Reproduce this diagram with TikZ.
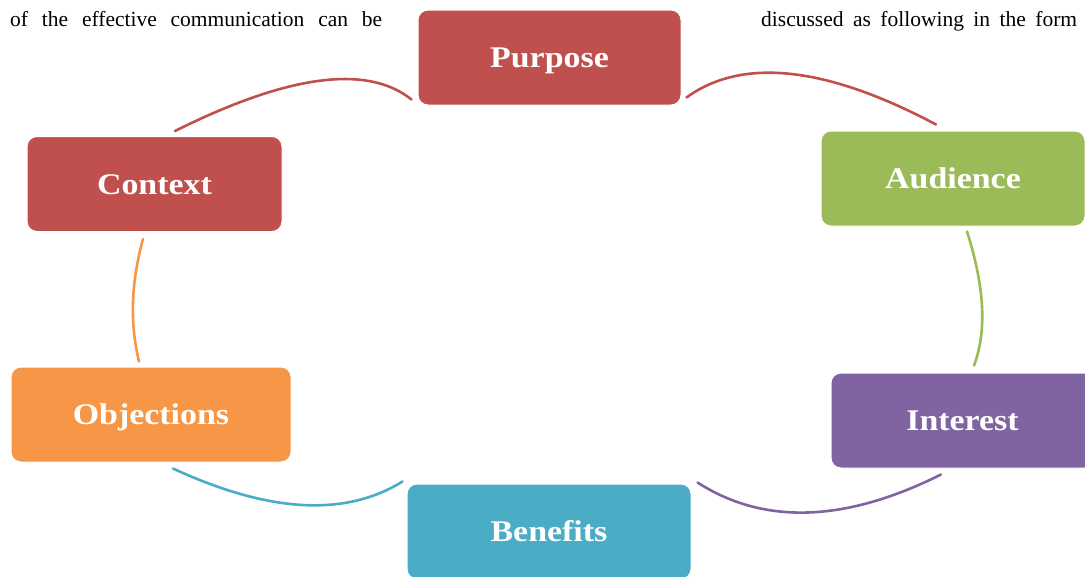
\documentclass[tikz,border=0pt]{standalone}
\usepackage{fontspec}
\setmainfont{Liberation Serif}
\newfontfamily\labelfont[FakeStretch=1.13]{Liberation Serif}
\usepackage{tikz}
\usetikzlibrary{positioning}

\definecolor{redbox}{HTML}{C0504D}
\definecolor{greenbox}{HTML}{9BBB59}
\definecolor{purplebox}{HTML}{8064A2}
\definecolor{bluebox}{HTML}{4BACC6}
\definecolor{orangebox}{HTML}{F79646}

\begin{document}
\begin{tikzpicture}[
			x=1pt, y=-1pt,
			box/.style={draw=white, line width=1pt, rounded corners=10pt, minimum height=95pt, text height=20pt, text depth=0pt, text=white, font=\labelfont\bfseries\fontsize{30}{36}\selectfont},
			ring/.style={line width=2.6pt, line cap=round},
			line/.style={anchor=base west, inner sep=0pt, font=\fontsize{21.5}{26}\selectfont}
			]
			\useasboundingbox (0,0) rectangle (1085,576);
			\fill[white] (0,0) rectangle (1085,576);
			
			% Testo
			\node[line] (lefttext) at (10,26) {\makebox[372pt][s]{of the effective communication can be}};
			\node[line] (righttext) at (761,26) {\makebox[316pt][s]{discussed as following in the form}};
			
			% Nodi
			\node[box, fill=redbox, minimum width=263pt] (purpose) at (549.5,57.5) {Purpose};
			\node[box, fill=greenbox, minimum width=264pt] (audience) at (953,178.5) {Audience};
			\node[box, fill=purplebox, minimum width=263pt] (interest) at (962.5,420.5) {Interest};
			\node[box, fill=bluebox, minimum width=284pt] (benefits) at (549,531.5) {Benefits};
			\node[box, fill=orangebox, minimum width=280pt] (objections) at (151,414.5) {Objections};
			\node[box, fill=redbox, minimum width=255pt] (context) at (154.5,184) {Context};
			
			% Archi
			\draw[ring, redbox] ([shift={(5,-8)}]purpose.south east) .. controls +(55,-40) and +(-111,-59) .. ([shift={(-17,-6)}]audience.north);
			\draw[ring, greenbox] ([shift={(14,5)}]audience.south) .. controls +(17.7,56) and +(13,-34.7) .. ([shift={(11.5,-7)}]interest.north);
			\draw[ring, purplebox] ([shift={(-21.5,6)}]interest.south) .. controls +(-97.3,48.7) and +(65.3,42) .. ([shift={(6,-1)}]benefits.north east);
			\draw[ring, bluebox] ([shift={(-4,-2)}]benefits.north west) .. controls +(-56.7,35.3) and +(96.7,44.7) .. ([shift={(22,6)}]objections.south);
			\draw[ring, orangebox] ([shift={(-12,-5)}]objections.north) .. controls +(-9.3,-38.7) and +(-12,44) .. ([shift={(-11.5,7)}]context.south);
			\draw[ring, redbox] ([shift={(20.5,-5)}]context.north) .. controls +(114.3,-57) and +(-43.7,-35) .. ([shift={(-6,-6)}]purpose.south west);
		\end{tikzpicture}
\end{document}
